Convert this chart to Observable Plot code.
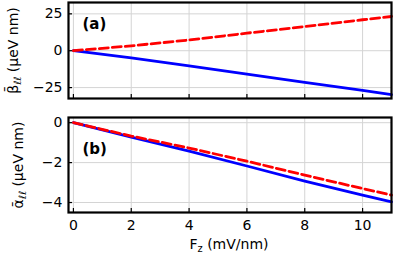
<!DOCTYPE html>
<html><head><meta charset="utf-8">
<script src="https://cdn.jsdelivr.net/npm/d3@7"></script>
<script src="https://cdn.jsdelivr.net/npm/@observablehq/plot@0.6"></script>
<style>
body{margin:0;background:#fff;}
#chart{position:relative;width:399px;height:255px;font-family:"DejaVu Sans",sans-serif;}
#chart svg{position:absolute;left:0;overflow:visible;}
</style></head><body><div id="chart"></div>
<script>
// Data
const fz = [0, 2, 4, 6, 8, 10, 11];
const betaSolid = [0, -4.9, -10.2, -15.9, -21.5, -26.9, -29.7];
const betaDashed = [0, 3.3, 7.3, 11.9, 16.4, 21.0, 23.2];
const alphaSolid = [0, -0.72, -1.42, -2.17, -2.93, -3.63, -3.97];
const alphaDashed = [0, -0.67, -1.27, -1.93, -2.63, -3.30, -3.63];
const xTicks = [0, 2, 4, 6, 8, 10];
const betaTicks = [-25, 0, 25];
const alphaTicks = [-4, -2, 0];
const betaLabel = "β\u0304_{ℓℓ} (μeV nm)";
const alphaLabel = "α\u0304_{ℓℓ} (μeV nm)";
const xLabel = "F_{z} (mV/nm)";
const tagA = "(a)";
const tagB = "(b)";

function rows(ys) { return fz.map((x, i) => ({x, y: ys[i]})); }

function panel(o) {
  const marks = [
    Plot.gridX(xTicks, {stroke: "#d4d4d4", strokeOpacity: 1, strokeWidth: 1}),
    Plot.gridY(o.yTicks, {stroke: "#d4d4d4", strokeOpacity: 1, strokeWidth: 1}),
    Plot.line(rows(o.solid), {x: "x", y: "y", stroke: "#0000ff", strokeWidth: 2.8}),
    Plot.line(rows(o.dashed), {x: "x", y: "y", stroke: "#ff0000", strokeWidth: 2.8, strokeDasharray: "9,4"}),
    Plot.axisY(o.yTicks, {tickSize: -4, tickPadding: 10, label: null, strokeWidth: 1.2}),
    Plot.axisX(xTicks, {tickSize: -4, tickPadding: 12, label: null, strokeWidth: 1.2,
      tickFormat: o.showX ? (d) => String(d) : () => ""}),
    Plot.frame({stroke: "#000", strokeWidth: 2.2}),
    Plot.text([o.tag], {frameAnchor: "top-left", dx: 14, dy: o.tagDy, textAnchor: "start",
      lineAnchor: "middle", fontWeight: "bold", fontSize: 15}),
    Plot.text([o.ylabel], {frameAnchor: "left", dx: o.ylabelDx, rotate: -90, textAnchor: "middle",
      lineAnchor: "middle", fontSize: 14})
  ];
  if (o.xlabel) marks.push(Plot.text([o.xlabel], {frameAnchor: "bottom", dx: -1, dy: 32,
    textAnchor: "middle", lineAnchor: "middle", fontSize: 14}));
  const svg = Plot.plot({
    width: 399, height: o.height,
    marginLeft: 68, marginRight: 8, marginTop: o.marginTop, marginBottom: o.marginBottom,
    style: {fontFamily: "DejaVu Sans", fontSize: "14px", color: "#000", background: "transparent", overflow: "visible"},
    x: {domain: [-0.17, 11]},
    y: {domain: o.yDomain},
    marks
  });
  svg.style.top = o.top + "px";
  return svg;
}

const topPanel = panel({top: 0, height: 100, marginTop: 2, marginBottom: 2, yDomain: [-32.4, 32.7],
  yTicks: betaTicks, solid: betaSolid, dashed: betaDashed, tag: tagA, tagDy: 22,
  ylabel: betaLabel, ylabelDx: -55, showX: false});
const bottomPanel = panel({top: 100, height: 155, marginTop: 17, marginBottom: 43, yDomain: [-4.5, 0.26],
  yTicks: alphaTicks, solid: alphaSolid, dashed: alphaDashed, tag: tagB, tagDy: 32,
  ylabel: alphaLabel, ylabelDx: -50, showX: true, xlabel: xLabel});

const chart = document.getElementById("chart");
chart.appendChild(topPanel);
chart.appendChild(bottomPanel);

// subscripts: turn "_{...}" into tspans
d3.select(chart).selectAll("text").each(function() {
  const t = this.textContent;
  if (!t || t.indexOf("_{") < 0) return;
  const parts = t.split(/_\{([^}]*)\}/);
  const sel = d3.select(this);
  sel.text(null);
  parts.forEach((p, i) => {
    if (!p) return;
    if (i % 2 === 1) {
      sel.append("tspan").attr("font-size", "70%").attr("dy", "0.3em").text(p);
    } else {
      const ts = sel.append("tspan").text(p);
      if (i > 0) ts.attr("dy", "-0.21em");
    }
  });
});
</script></body></html>
